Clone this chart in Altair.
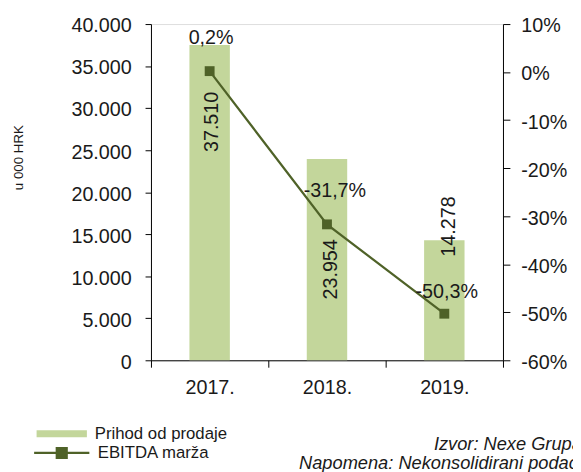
import altair as alt
import pandas as pd

# ---- data ----
years = ["2017.", "2018.", "2019."]
prihod = [37510, 23954, 14278]          # Prihod od prodaje (u 000 HRK)
ebitda = [0.2, -31.7, -50.3]            # EBITDA marža (%)
left_ticks = [0, 5000, 10000, 15000, 20000, 25000, 30000, 35000, 40000]
right_ticks = [-60, -50, -40, -30, -20, -10, 0, 10]

df = pd.DataFrame({"godina": years, "prihod": prihod, "ebitda": ebitda})

BAR = "#c3d69b"
LINE = "#4f6228"
TXT = "#1a1a1a"
FONT = "Liberation Sans"

# label placement styling (pixel offsets per year)
bar_lbl_off = {"2017.": (-78, 2.5), "2018.": (-112, 4), "2019.": (14, 5)}
pct_lbl_off = {"2017.": (1.5, -34), "2018.": (8, -33.5), "2019.": (2.5, -22)}

x_enc = alt.X(
    "godina:N", sort=years, title=None,
    scale=alt.Scale(paddingInner=0, paddingOuter=0),
    axis=alt.Axis(labelAngle=0, tickBand="extent", labelFontSize=20, labelFont=FONT,
                  labelColor=TXT, labelPadding=11, tickSize=7, domainColor="black",
                  tickColor="black", grid=False),
)

y_left = alt.Y(
    "prihod:Q",
    scale=alt.Scale(domain=[0, 40000], nice=False),
    axis=alt.Axis(values=left_ticks, labelExpr="replace(format(datum.value, ','), ',', '.')",
                  grid=False, labelFontSize=20, labelFont=FONT, labelColor=TXT,
                  labelPadding=14, labelOffset=2, tickSize=6, domainColor="black",
                  tickColor="black", title="u 000 HRK", titleFont=FONT,
                  titleFontSize=13.5, titleFontWeight="normal", titleColor=TXT,
                  titleAngle=270, titleX=-134, titleY=135, titleAlign="center",
                  titleBaseline="middle"),
)

y_right = alt.Y(
    "ebitda:Q",
    scale=alt.Scale(domain=[-60, 10], nice=False),
    axis=alt.Axis(orient="right", values=right_ticks, labelExpr="datum.value + '%'",
                  grid=False, labelFontSize=20, labelFont=FONT, labelColor=TXT,
                  labelPadding=11, labelOffset=2, tickSize=7, domainColor="black",
                  tickColor="black", title=None),
)

base = alt.Chart(df).transform_calculate(
    s1="'Prihod od prodaje'",
    s2="'EBITDA marža'",
    lbl_bar="replace(format(datum.prihod, ','), ',', '.')",
    lbl_pct="replace(toString(datum.ebitda), '.', ',') + '%'",
)

bars = base.mark_bar(size=41).encode(
    x=x_enc, y=y_left,
    fill=alt.Fill("s1:N", scale=alt.Scale(domain=["Prihod od prodaje"], range=[BAR]),
                  legend=alt.Legend(title=None, orient="none", legendX=-116, legendY=390,
                                    symbolType="M-1,-0.14H1V0.14H-1Z", symbolSize=2601,
                                    symbolStrokeWidth=0, labelFont=FONT, labelFontSize=17,
                                    labelColor=TXT, labelOffset=8, padding=0)),
)

bar_labels = [
    base.transform_filter(alt.datum.godina == yr).mark_text(
        angle=270, align="center", baseline="middle", dx=off[0], dy=off[1],
        font=FONT, fontSize=20, color=TXT,
    ).encode(x=x_enc, y=y_left, text="lbl_bar:N")
    for yr, off in bar_lbl_off.items()
]

line = base.mark_line(strokeWidth=2.25).encode(
    x=x_enc, y=y_right,
    stroke=alt.Stroke("s2:N", scale=alt.Scale(domain=["EBITDA marža"], range=[LINE]),
                      legend=alt.Legend(title=None, orient="none", legendX=-120, legendY=405.5,
                                        symbolType="M-1,0H1M-0.18,-0.18H0.18V0.18H-0.18Z",
                                        symbolSize=3136, symbolStrokeWidth=2.25,
                                        symbolFillColor=LINE, symbolStrokeColor=LINE,
                                        labelFont=FONT, labelFontSize=17, labelColor=TXT,
                                        labelOffset=7, padding=0)),
)

points = base.mark_point(shape="square", filled=True, size=100, color=LINE, opacity=1).encode(
    x=x_enc, y=y_right,
)

pct_labels = [
    base.transform_filter(alt.datum.godina == yr).mark_text(
        align="center", baseline="middle", dx=off[0], dy=off[1],
        font=FONT, fontSize=20, color=TXT,
    ).encode(x=x_enc, y=y_right, text="lbl_pct:N")
    for yr, off in pct_lbl_off.items()
]

left = alt.layer(bars, *bar_labels)
right = alt.layer(line, points, *pct_labels)

chart = alt.layer(left, right).resolve_scale(y="independent").properties(
    width=357, height=341,
    autosize=alt.AutoSizeParams(type="none"),
    padding={"left": 145, "top": 13, "right": 71, "bottom": 110},
    title=alt.Title(
        "Izvor: Nexe Grupa", subtitle="Napomena: Nekonsolidirani podaci",
        orient="bottom", anchor="end", frame="group", align="right", dx=80, offset=-29,
        font=FONT, fontSize=18.5, fontStyle="italic", fontWeight="normal", color=TXT,
        subtitleFont=FONT, subtitleFontSize=18.5, subtitleFontStyle="italic",
        subtitleColor=TXT, subtitlePadding=1,
    ),
).configure_view(stroke=None).configure(background="white")

chart.save("out.html", embed_options={"renderer": "svg", "actions": False})
